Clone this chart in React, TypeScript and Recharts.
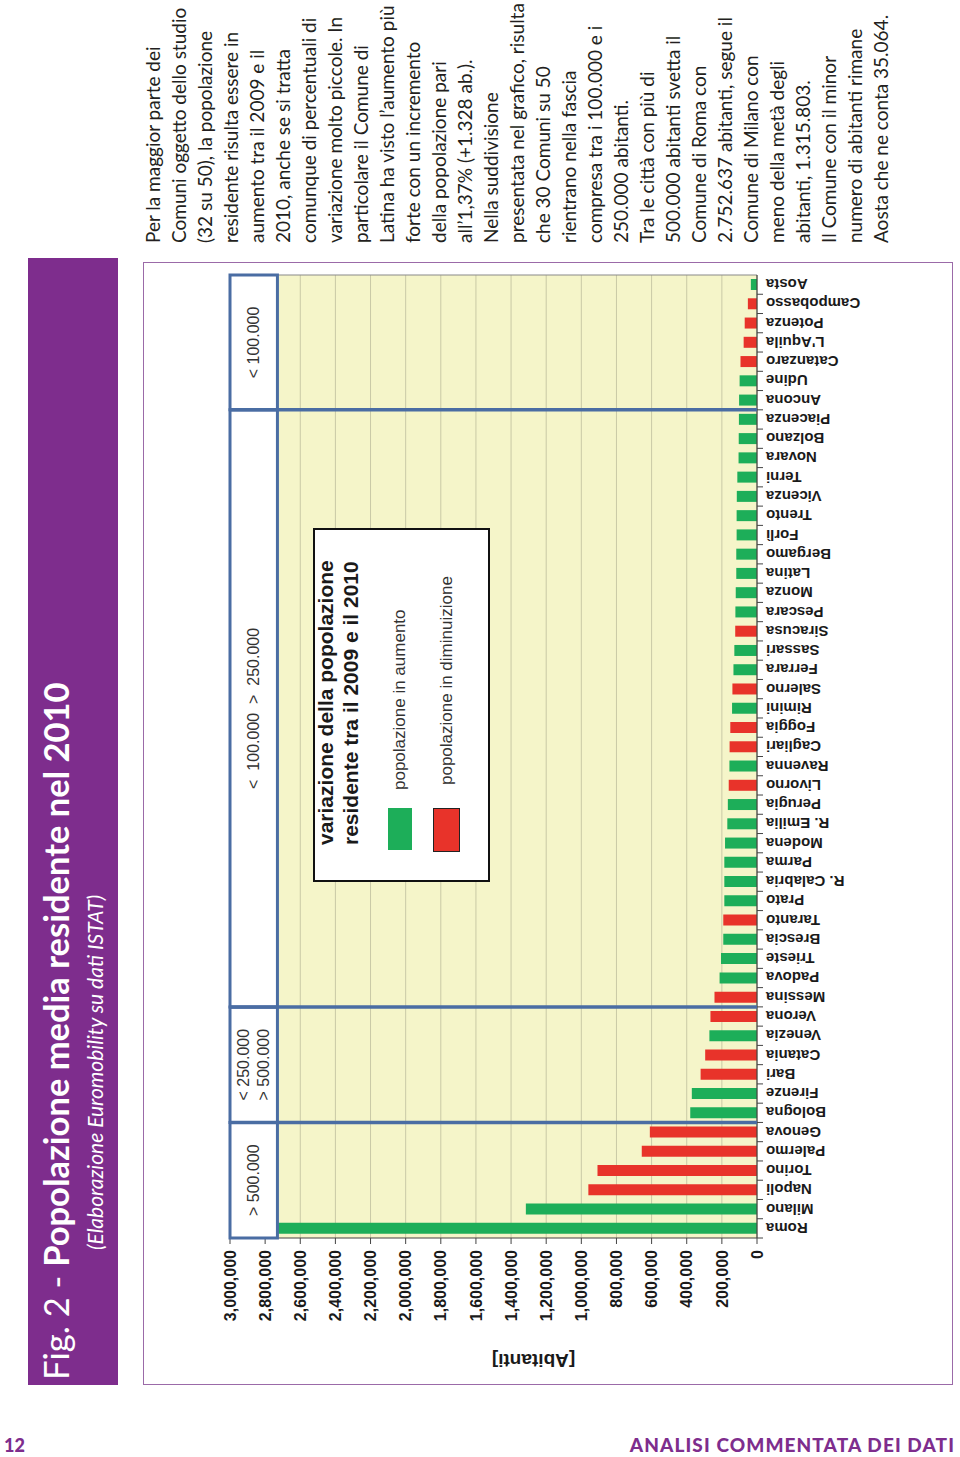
import React from 'react';
import { BarChart, Bar, XAxis, YAxis, CartesianGrid, Cell, ReferenceArea, ReferenceLine } from 'recharts';

const cities = [
  'Roma', 'Milano', 'Napoli', 'Torino', 'Palermo', 'Genova', 'Bologna', 'Firenze', 'Bari', 'Catania',
  'Venezia', 'Verona', 'Messina', 'Padova', 'Trieste', 'Brescia', 'Taranto', 'Prato', 'R. Calabria', 'Parma',
  'Modena', 'R. Emilia', 'Perugia', 'Livorno', 'Ravenna', 'Cagliari', 'Foggia', 'Rimini', 'Salerno', 'Ferrara',
  'Sassari', 'Siracusa', 'Pescara', 'Monza', 'Latina', 'Bergamo', 'Forlì', 'Trento', 'Vicenza', 'Terni',
  'Novara', 'Bolzano', 'Piacenza', 'Ancona', 'Udine', 'Catanzaro', "L'Aquila", 'Potenza', 'Campobasso', 'Aosta',
];

const population = [
  2752637, 1315803, 960000, 908000, 656000, 610000, 380000, 371000, 321000, 295000,
  271000, 265000, 242000, 213000, 205000, 192000, 192000, 186000, 186000, 186000,
  182000, 169000, 166000, 161000, 157000, 156000, 152000, 142000, 140000, 134000,
  129000, 124000, 123000, 121000, 118000, 118000, 116000, 116000, 115000, 112000,
  105000, 104000, 103000, 102000, 99000, 94000, 76000, 70000, 52000, 35064,
];

// 'A' = popolazione in aumento, 'D' = popolazione in diminuizione
const trend = [
  'A', 'A', 'D', 'D', 'D', 'D', 'A', 'A', 'D', 'D',
  'A', 'D', 'D', 'A', 'A', 'A', 'D', 'A', 'A', 'A',
  'A', 'A', 'A', 'D', 'A', 'D', 'D', 'A', 'D', 'A',
  'A', 'D', 'A', 'A', 'A', 'A', 'A', 'A', 'A', 'A',
  'A', 'A', 'A', 'A', 'A', 'D', 'D', 'D', 'D', 'A',
];

const valueTicks = [
  0, 200000, 400000, 600000, 800000, 1000000, 1200000, 1400000,
  1600000, 1800000, 2000000, 2200000, 2400000, 2600000, 2800000, 3000000,
];

const groupFirst = ['Roma', 'Bologna', 'Messina', 'Ancona'];
const groupLast = ['Genova', 'Verona', 'Piacenza', 'Aosta'];
const groupLabels = [['> 500.000'], ['< 250.000', '> 500.000'], ['<  100.000  >  250.000'], ['< 100.000']];
const headerBand = [2730000, 3000000];

const legendTitle = ['variazione della popolazione', 'residente tra il 2009 e il 2010'];
const legendItems = ['popolazione in aumento', 'popolazione in diminuizione'];

const titleMain = 'Popolazione media residente nel 2010';
const titlePrefix = 'Fig. 2 - ';
const subtitle = '(Elaborazione Euromobility su dati ISTAT)';

const bodyLines = [
  'Per la maggior parte dei',
  'Comuni oggetto dello studio',
  '(32 su 50), la popolazione',
  'residente risulta essere in',
  'aumento tra il 2009 e il',
  '2010, anche se si tratta',
  'comunque di percentuali di',
  'variazione molto piccole. In',
  'particolare il Comune di',
  'Latina ha visto l\u2019aumento più',
  'forte con un incremento',
  'della popolazione pari',
  'all\u20191,37% (+1.328 ab.).',
  'Nella suddivisione',
  'presentata nel grafico, risulta',
  'che 30 Comuni su 50',
  'rientrano nella fascia',
  'compresa tra i 100.000 e i',
  '250.000 abitanti.',
  'Tra le città con più di',
  '500.000 abitanti svetta il',
  'Comune di Roma con',
  '2.752.637 abitanti, segue il',
  'Comune di Milano con',
  'meno della metà degli',
  'abitanti, 1.315.803.',
  'Il Comune con il minor',
  'numero di abitanti rimane',
  'Aosta che ne conta 35.064.',
];

const pageNumber = '12';
const footerText = 'ANALISI COMMENTATA DEI DATI';

const data = cities.map((city, i) => ({ city, population: population[i], trend: trend[i] }));

const GREEN = '#1DAE59';
const RED = '#E8332A';
const BLUE = '#4A6DA3';
const PURPLE = '#7E2D8D';
const CHART_FONT = '"Liberation Sans", Arial, sans-serif';
const PAGE_FONT = 'Lato, "Open Sans", sans-serif';

const fmt = (v: number) => v.toLocaleString('en-US');

const CityTick = (props: any) => {
  const { x, y, payload } = props;
  const off = payload && payload.offset ? payload.offset : 0;
  const ty = y + 9;
  return (
    <g>
      <line x1={x - off} x2={x - off} y1={y} y2={y + 6} stroke="#444" strokeWidth={1} />
      <text
        x={x}
        y={ty}
        transform={`rotate(-90, ${x}, ${ty})`}
        textAnchor="end"
        dominantBaseline="central"
        fontFamily={CHART_FONT}
        fontWeight="bold"
        fontSize={15}
        fill="#1a1a1a"
      >
        {payload.value}
      </text>
    </g>
  );
};

const headerLabel = (lines: string[]) => (props: any) => {
  const vb = props.viewBox || {};
  const cx = vb.x + vb.width / 2;
  const cy = vb.y + vb.height / 2;
  const lh = 20;
  const start = cy - ((lines.length - 1) * lh) / 2;
  return (
    <g>
      {lines.map((l, i) => (
        <text
          key={i}
          x={cx}
          y={start + i * lh}
          textAnchor="middle"
          dominantBaseline="central"
          fontFamily={CHART_FONT}
          fontSize={16}
          fill="#333"
          style={{ whiteSpace: 'pre' }}
        >
          {l}
        </text>
      ))}
    </g>
  );
};

const abitantiLabel = (props: any) => {
  const vb = props.viewBox || {};
  const x = vb.x - 22;
  const y = vb.y + vb.height / 2 + 40;
  return (
    <text
      x={x}
      y={y}
      transform={`rotate(-90, ${x}, ${y})`}
      textAnchor="middle"
      dominantBaseline="central"
      fontFamily={CHART_FONT}
      fontWeight="bold"
      fontSize={19}
      fill="#1a1a1a"
    >
      [Abitanti]
    </text>
  );
};

export default function App() {
  return (
    <div style={{ position: 'absolute', left: 0, top: 0, width: 960, height: 1457, background: '#fff', overflow: 'hidden' }}>
      <div
        style={{
          position: 'absolute',
          left: 0,
          top: 0,
          width: 1457,
          height: 960,
          transformOrigin: '0 0',
          transform: 'translate(0px, 1457px) rotate(-90deg)',
          background: '#fff',
        }}
      >
        {/* title band */}
        <div style={{ position: 'absolute', left: 72, top: 28, width: 1127, height: 90, background: PURPLE }} />
        <div
          style={{
            position: 'absolute', left: 77, top: 35, height: 42, lineHeight: '42px',
            fontFamily: PAGE_FONT, fontSize: 34.5, color: '#fff', whiteSpace: 'nowrap',
          }}
        >
          <span style={{ fontWeight: 400 }}>{titlePrefix}</span>
          <span style={{ fontWeight: 700 }}>{titleMain}</span>
        </div>
        <div
          style={{
            position: 'absolute', left: 207, top: 83, height: 24, lineHeight: '24px',
            fontFamily: PAGE_FONT, fontSize: 21, fontStyle: 'italic', color: '#fff', whiteSpace: 'nowrap',
          }}
        >
          {subtitle}
        </div>

        {/* chart frame border */}
        <div
          style={{
            position: 'absolute', left: 72, top: 143, width: 1123, height: 810,
            border: '1.5px solid #9B6AA8', boxSizing: 'border-box',
          }}
        />

        <div style={{ position: 'absolute', left: 0, top: 0 }}>
          <BarChart
            width={1457}
            height={960}
            data={data}
            margin={{ top: 230, right: 275, bottom: 103, left: 119 }}
            barCategoryGap="22%"
          >
            <CartesianGrid vertical={false} stroke="#C9C9A6" fill="#F5F5C9" fillOpacity={1} />
            <XAxis
              dataKey="city"
              interval={0}
              height={100}
              tickLine={false}
              tickSize={0}
              tickMargin={0}
              tick={<CityTick />}
              axisLine={{ stroke: '#444', strokeWidth: 1.2 }}
            />
            <YAxis
              width={100}
              domain={[0, 3000000]}
              ticks={valueTicks}
              tickFormatter={fmt}
              tickSize={6}
              tickMargin={6}
              tick={{ fontFamily: CHART_FONT, fontWeight: 'bold', fontSize: 16, fill: '#1a1a1a' }}
              axisLine={{ stroke: '#444', strokeWidth: 1.2 }}
              tickLine={{ stroke: '#444' }}
              label={abitantiLabel}
            />
            <Bar dataKey="population" isAnimationActive={false}>
              {data.map((d, i) => (
                <Cell key={i} fill={d.trend === 'A' ? GREEN : RED} />
              ))}
            </Bar>
            {groupFirst.map((first, i) => (
              <ReferenceArea
                key={`ga${i}`}
                x1={first}
                x2={groupLast[i]}
                y1={headerBand[0]}
                y2={headerBand[1]}
                ifOverflow="visible"
                zIndex={700}
                fill="#ffffff"
                fillOpacity={1}
                stroke={BLUE}
                strokeWidth={3}
                label={headerLabel(groupLabels[i])}
              />
            ))}
            {groupLast.slice(0, 3).map((last, i) => (
              <ReferenceLine key={`gl${i}`} x={last} position="end" stroke={BLUE} strokeWidth={3.5} zIndex={700} />
            ))}
            <ReferenceLine x={groupLast[3]} position="end" stroke="#8a8a8a" strokeWidth={1.2} />
          </BarChart>
        </div>

        {/* legend */}
        <div
          style={{
            position: 'absolute', left: 575, top: 313, width: 354, height: 177,
            border: '2.5px solid #111', boxSizing: 'border-box', background: '#fff',
          }}
        >
          <div
            style={{
              position: 'absolute', left: 35, top: -2, lineHeight: '25px',
              fontFamily: CHART_FONT, fontWeight: 'bold', fontSize: 21, color: '#1a1a1a', whiteSpace: 'nowrap',
            }}
          >
            {legendTitle.map((t, i) => (
              <div key={i}>{t}</div>
            ))}
          </div>
          <div style={{ position: 'absolute', left: 30, top: 73, width: 42, height: 24, background: GREEN }} />
          <div
            style={{
              position: 'absolute', left: 90, top: 75, lineHeight: '20px',
              fontFamily: CHART_FONT, fontSize: 17, color: '#333', whiteSpace: 'nowrap',
            }}
          >
            {legendItems[0]}
          </div>
          <div
            style={{
              position: 'absolute', left: 28, top: 118, width: 44, height: 27, background: RED,
              border: '1.5px solid #222', boxSizing: 'border-box',
            }}
          />
          <div
            style={{
              position: 'absolute', left: 95, top: 122, lineHeight: '20px',
              fontFamily: CHART_FONT, fontSize: 17, color: '#333', whiteSpace: 'nowrap',
            }}
          >
            {legendItems[1]}
          </div>
        </div>

        {/* side text */}
        <div
          style={{
            position: 'absolute', left: 1214, top: 140, lineHeight: '26px',
            fontFamily: PAGE_FONT, fontSize: 19, color: '#231F20', whiteSpace: 'pre',
          }}
        >
          {bodyLines.map((l, i) => (
            <div key={i}>{l}</div>
          ))}
        </div>
      </div>

      {/* footer (not rotated) */}
      <div
        style={{
          position: 'absolute', left: 4, top: 1434, lineHeight: '22px',
          fontFamily: PAGE_FONT, fontWeight: 900, fontSize: 18, color: PURPLE,
        }}
      >
        {pageNumber}
      </div>
      <div
        style={{
          position: 'absolute', right: 5, top: 1434, lineHeight: '22px',
          fontFamily: PAGE_FONT, fontWeight: 900, fontSize: 19, color: PURPLE, whiteSpace: 'nowrap',
          letterSpacing: 1.1,
        }}
      >
        {footerText}
      </div>
    </div>
  );
}
